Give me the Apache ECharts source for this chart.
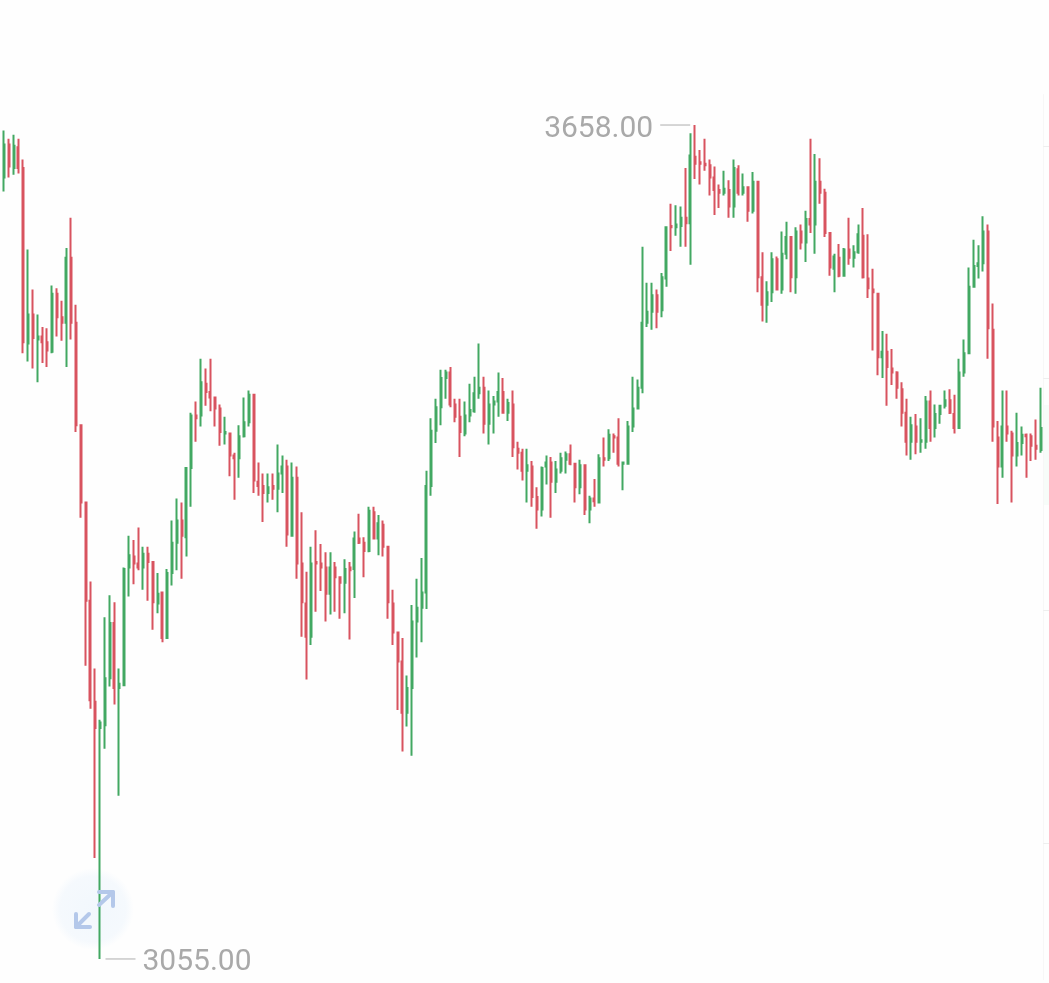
<!DOCTYPE html>
<html>
<head>
<meta charset="utf-8">
<style>html,body{margin:0;padding:0;background:#fefefe}#chart{width:1049px;height:983px}</style>
<script src="https://cdn.jsdelivr.net/npm/echarts@6/dist/echarts.min.js"></script>
</head>
<body>
<div id="chart"></div>
<script>
const opens = [
3620,3644,3627,3642,3627,3500,3521,3503,3505,3501,
3494,3536,3519,3515,3562,3515,3441,3385,3314,3241,
3222,3224,3258,3298,3251,3253,3338,3346,3341,3338,
3348,3342,3312,3320,3287,3334,3356,3372,3360,3410,
3448,3448,3471,3465,3461,3453,3435,3435,3419,3417,
3433,3443,3463,3400,3397,3392,3397,3395,3406,3411,
3361,3403,3341,3312,3288,3342,3341,3338,3319,3338,
3331,3327,3338,3337,3359,3356,3350,3378,3359,3369,
3353,3312,3291,3270,3233,3251,3299,3309,3320,3397,
3437,3454,3475,3479,3456,3447,3435,3448,3451,3464,
3468,3442,3456,3458,3465,3450,3456,3424,3421,3408,
3411,3389,3380,3411,3414,3400,3408,3416,3420,3413,
3396,3412,3380,3388,3385,3417,3417,3433,3432,3413,
3413,3440,3453,3468,3515,3523,3535,3524,3547,3585,
3584,3585,3591,3587,3635,3631,3630,3629,3620,3611,
3609,3611,3599,3626,3609,3613,3596,3617,3548,3528,
3537,3561,3539,3565,3577,3548,3581,3573,3590,3586,
3617,3609,3580,3554,3562,3549,3568,3562,3566,3578,
3547,3539,3536,3490,3494,3482,3479,3467,3450,3429,
3440,3429,3429,3458,3439,3449,3455,3459,3449,3439,
3479,3493,3541,3556,3558,3581,3510,3432,3411,3440,
3435,3419,3428,3434,3433,3426,3423];
const closes = [
3644,3628,3643,3627,3501,3521,3504,3505,3501,3495,
3536,3519,3515,3562,3515,3441,3385,3314,3242,3222,
3226,3258,3298,3251,3254,3337,3347,3341,3338,3348,
3342,3313,3319,3287,3334,3356,3372,3361,3410,3448,
3446,3472,3465,3461,3453,3436,3436,3419,3417,3433,
3443,3463,3401,3397,3392,3396,3395,3406,3411,3362,
3403,3341,3313,3288,3341,3341,3338,3319,3338,3331,
3327,3337,3336,3359,3356,3350,3379,3359,3370,3353,
3313,3291,3270,3233,3251,3299,3309,3320,3397,3437,
3454,3475,3479,3456,3447,3436,3448,3452,3464,3468,
3442,3456,3458,3465,3450,3457,3425,3421,3408,3412,
3389,3380,3410,3414,3400,3409,3417,3420,3413,3396,
3412,3380,3388,3386,3417,3416,3434,3432,3413,3414,
3440,3453,3468,3515,3523,3535,3523,3548,3584,3584,
3586,3591,3587,3636,3630,3630,3629,3620,3611,3609,
3612,3599,3627,3609,3613,3596,3617,3548,3528,3537,
3561,3539,3565,3577,3548,3581,3573,3590,3586,3617,
3609,3580,3555,3563,3549,3568,3562,3566,3579,3548,
3540,3537,3490,3494,3483,3479,3468,3450,3429,3441,
3429,3430,3458,3439,3449,3455,3459,3450,3439,3479,
3493,3541,3556,3558,3581,3511,3440,3411,3440,3435,
3419,3428,3434,3433,3426,3424,3439];
const highs = [
3654,3648,3651,3648,3633,3568,3539,3521,3512,3511,
3542,3540,3531,3569,3591,3528,3441,3385,3328,3265,
3228,3302,3318,3313,3265,3338,3361,3358,3367,3353,
3353,3342,3334,3320,3337,3372,3388,3385,3410,3450,
3458,3489,3482,3489,3461,3456,3447,3435,3421,3441,
3461,3466,3463,3414,3406,3406,3406,3427,3419,3416,
3414,3411,3378,3335,3353,3365,3355,3349,3349,3342,
3331,3344,3342,3364,3377,3360,3382,3382,3376,3372,
3353,3322,3291,3287,3260,3311,3330,3345,3408,3446,
3460,3481,3481,3483,3460,3460,3458,3471,3476,3500,
3476,3466,3462,3479,3475,3460,3466,3429,3424,3424,
3415,3396,3411,3419,3418,3415,3421,3422,3427,3413,
3416,3412,3390,3402,3420,3432,3438,3435,3446,3414,
3444,3476,3474,3570,3544,3544,3539,3551,3584,3601,
3600,3599,3627,3652,3658,3640,3648,3633,3628,3615,
3625,3618,3633,3629,3623,3613,3624,3617,3566,3545,
3566,3563,3581,3588,3577,3584,3586,3596,3648,3637,
3634,3612,3580,3565,3572,3569,3591,3571,3586,3598,
3579,3554,3536,3509,3507,3496,3480,3472,3460,3447,
3449,3446,3462,3466,3456,3455,3466,3467,3463,3489,
3503,3555,3575,3571,3592,3586,3529,3444,3466,3466,
3437,3450,3440,3435,3435,3445,3468];
const lows = [
3610,3620,3622,3623,3493,3487,3482,3472,3486,3483,
3493,3505,3502,3483,3503,3436,3374,3267,3236,3128,
3055,3207,3252,3239,3173,3253,3317,3326,3336,3322,
3314,3293,3305,3284,3287,3325,3336,3330,3346,3382,
3429,3440,3455,3451,3440,3426,3427,3404,3387,3403,
3432,3440,3392,3390,3371,3385,3387,3378,3392,3353,
3361,3330,3288,3257,3282,3306,3321,3299,3304,3306,
3301,3305,3286,3316,3355,3331,3349,3359,3347,3346,
3301,3282,3235,3205,3223,3202,3273,3284,3308,3390,
3428,3441,3460,3454,3443,3418,3433,3443,3450,3460,
3435,3427,3435,3447,3450,3444,3418,3409,3401,3385,
3382,3366,3375,3398,3374,3392,3406,3406,3412,3385,
3391,3376,3370,3382,3385,3411,3415,3421,3411,3394,
3413,3436,3453,3464,3512,3510,3511,3519,3541,3567,
3578,3570,3570,3557,3619,3615,3625,3607,3593,3598,
3607,3591,3591,3607,3607,3588,3594,3537,3516,3515,
3530,3539,3536,3561,3537,3536,3568,3559,3580,3565,
3601,3577,3549,3537,3548,3549,3557,3555,3565,3547,
3533,3495,3477,3475,3455,3470,3460,3440,3419,3416,
3420,3421,3424,3429,3432,3442,3453,3449,3435,3439,
3476,3493,3541,3547,3552,3489,3429,3384,3403,3429,
3385,3411,3419,3403,3415,3416,3421];
const categories = opens.map((_, i) => String(i));
const maxIndex = 144, maxValue = 3658, minIndex = 20, minValue = 3055;
const rightTicks = [3643, 3475, 3307, 3139];

const labelStyle = { fontFamily: 'Roboto', fontSize: 30, color: '#a9a9a9' };
const arrowStyle = { stroke: '#b4c8ea', lineWidth: 4, fill: 'none', lineCap: 'round', lineJoin: 'round' };

const chart = echarts.init(document.getElementById('chart'), null, { renderer: 'canvas' });
chart.setOption({
  animation: false,
  backgroundColor: '#fefefe',
  grid: { left: 1.6, right: 5.8, top: 94.6, bottom: 3.3, containLabel: false },
  xAxis: { type: 'category', data: categories, boundaryGap: true, show: false },
  yAxis: {
    type: 'value', position: 'right', min: 3040, max: 3680, scale: true,
    splitLine: { show: false }, axisLabel: { show: false },
    axisLine: { show: true, lineStyle: { color: '#f7f7f7', width: 1 } },
    axisTick: { show: true, customValues: rightTicks, length: 6, lineStyle: { color: '#eeeeee' } }
  },
  series: [{
    type: 'candlestick',
    data: opens.map((o, i) => [o, closes[i], lows[i], highs[i]]),
    barWidth: 1.5,
    itemStyle: { color: '#42a862', color0: '#d8535f', borderColor: '#42a862', borderColor0: '#d8535f', borderWidth: 2 },
    markPoint: {
      silent: true, animation: false,
      data: [
        { coord: [maxIndex, maxValue], symbol: 'rect', symbolSize: [30, 1.5], symbolOffset: [-20, 0],
          itemStyle: { color: '#c8c8c8' },
          label: Object.assign({ show: true, position: 'left', distance: 7, offset: [0, 4], formatter: maxValue.toFixed(2) }, labelStyle) },
        { coord: [minIndex, minValue], symbol: 'rect', symbolSize: [30, 1.5], symbolOffset: [20.5, 0],
          itemStyle: { color: '#c8c8c8' },
          label: Object.assign({ show: true, position: 'right', distance: 7, offset: [0, 4], formatter: minValue.toFixed(2) }, labelStyle) }
      ]
    }
  }],
  graphic: [
    { type: 'rect', z: -1, shape: { x: 1043.5, y: 405, width: 6, height: 100 }, style: { fill: '#f7fcf9' } },
    { type: 'circle', z: 0, shape: { cx: 93, cy: 909, r: 41 }, style: { fill: {
        type: 'radial', x: 0.5, y: 0.5, r: 0.5,
        colorStops: [{ offset: 0, color: 'rgba(232,242,252,0.55)' }, { offset: 0.8, color: 'rgba(232,242,252,0.4)' }, { offset: 1, color: 'rgba(232,242,252,0)' }]
      } } },
    { type: 'polyline', z: 100, shape: { points: [[99, 892], [113, 892], [113, 906]] }, style: arrowStyle },
    { type: 'line', z: 100, shape: { x1: 113, y1: 892, x2: 99, y2: 905 }, style: arrowStyle },
    { type: 'polyline', z: 100, shape: { points: [[76, 914], [76, 927], [90, 927]] }, style: arrowStyle },
    { type: 'line', z: 100, shape: { x1: 76, y1: 927, x2: 89, y2: 914 }, style: arrowStyle }
  ]
});
</script>
</body>
</html>
